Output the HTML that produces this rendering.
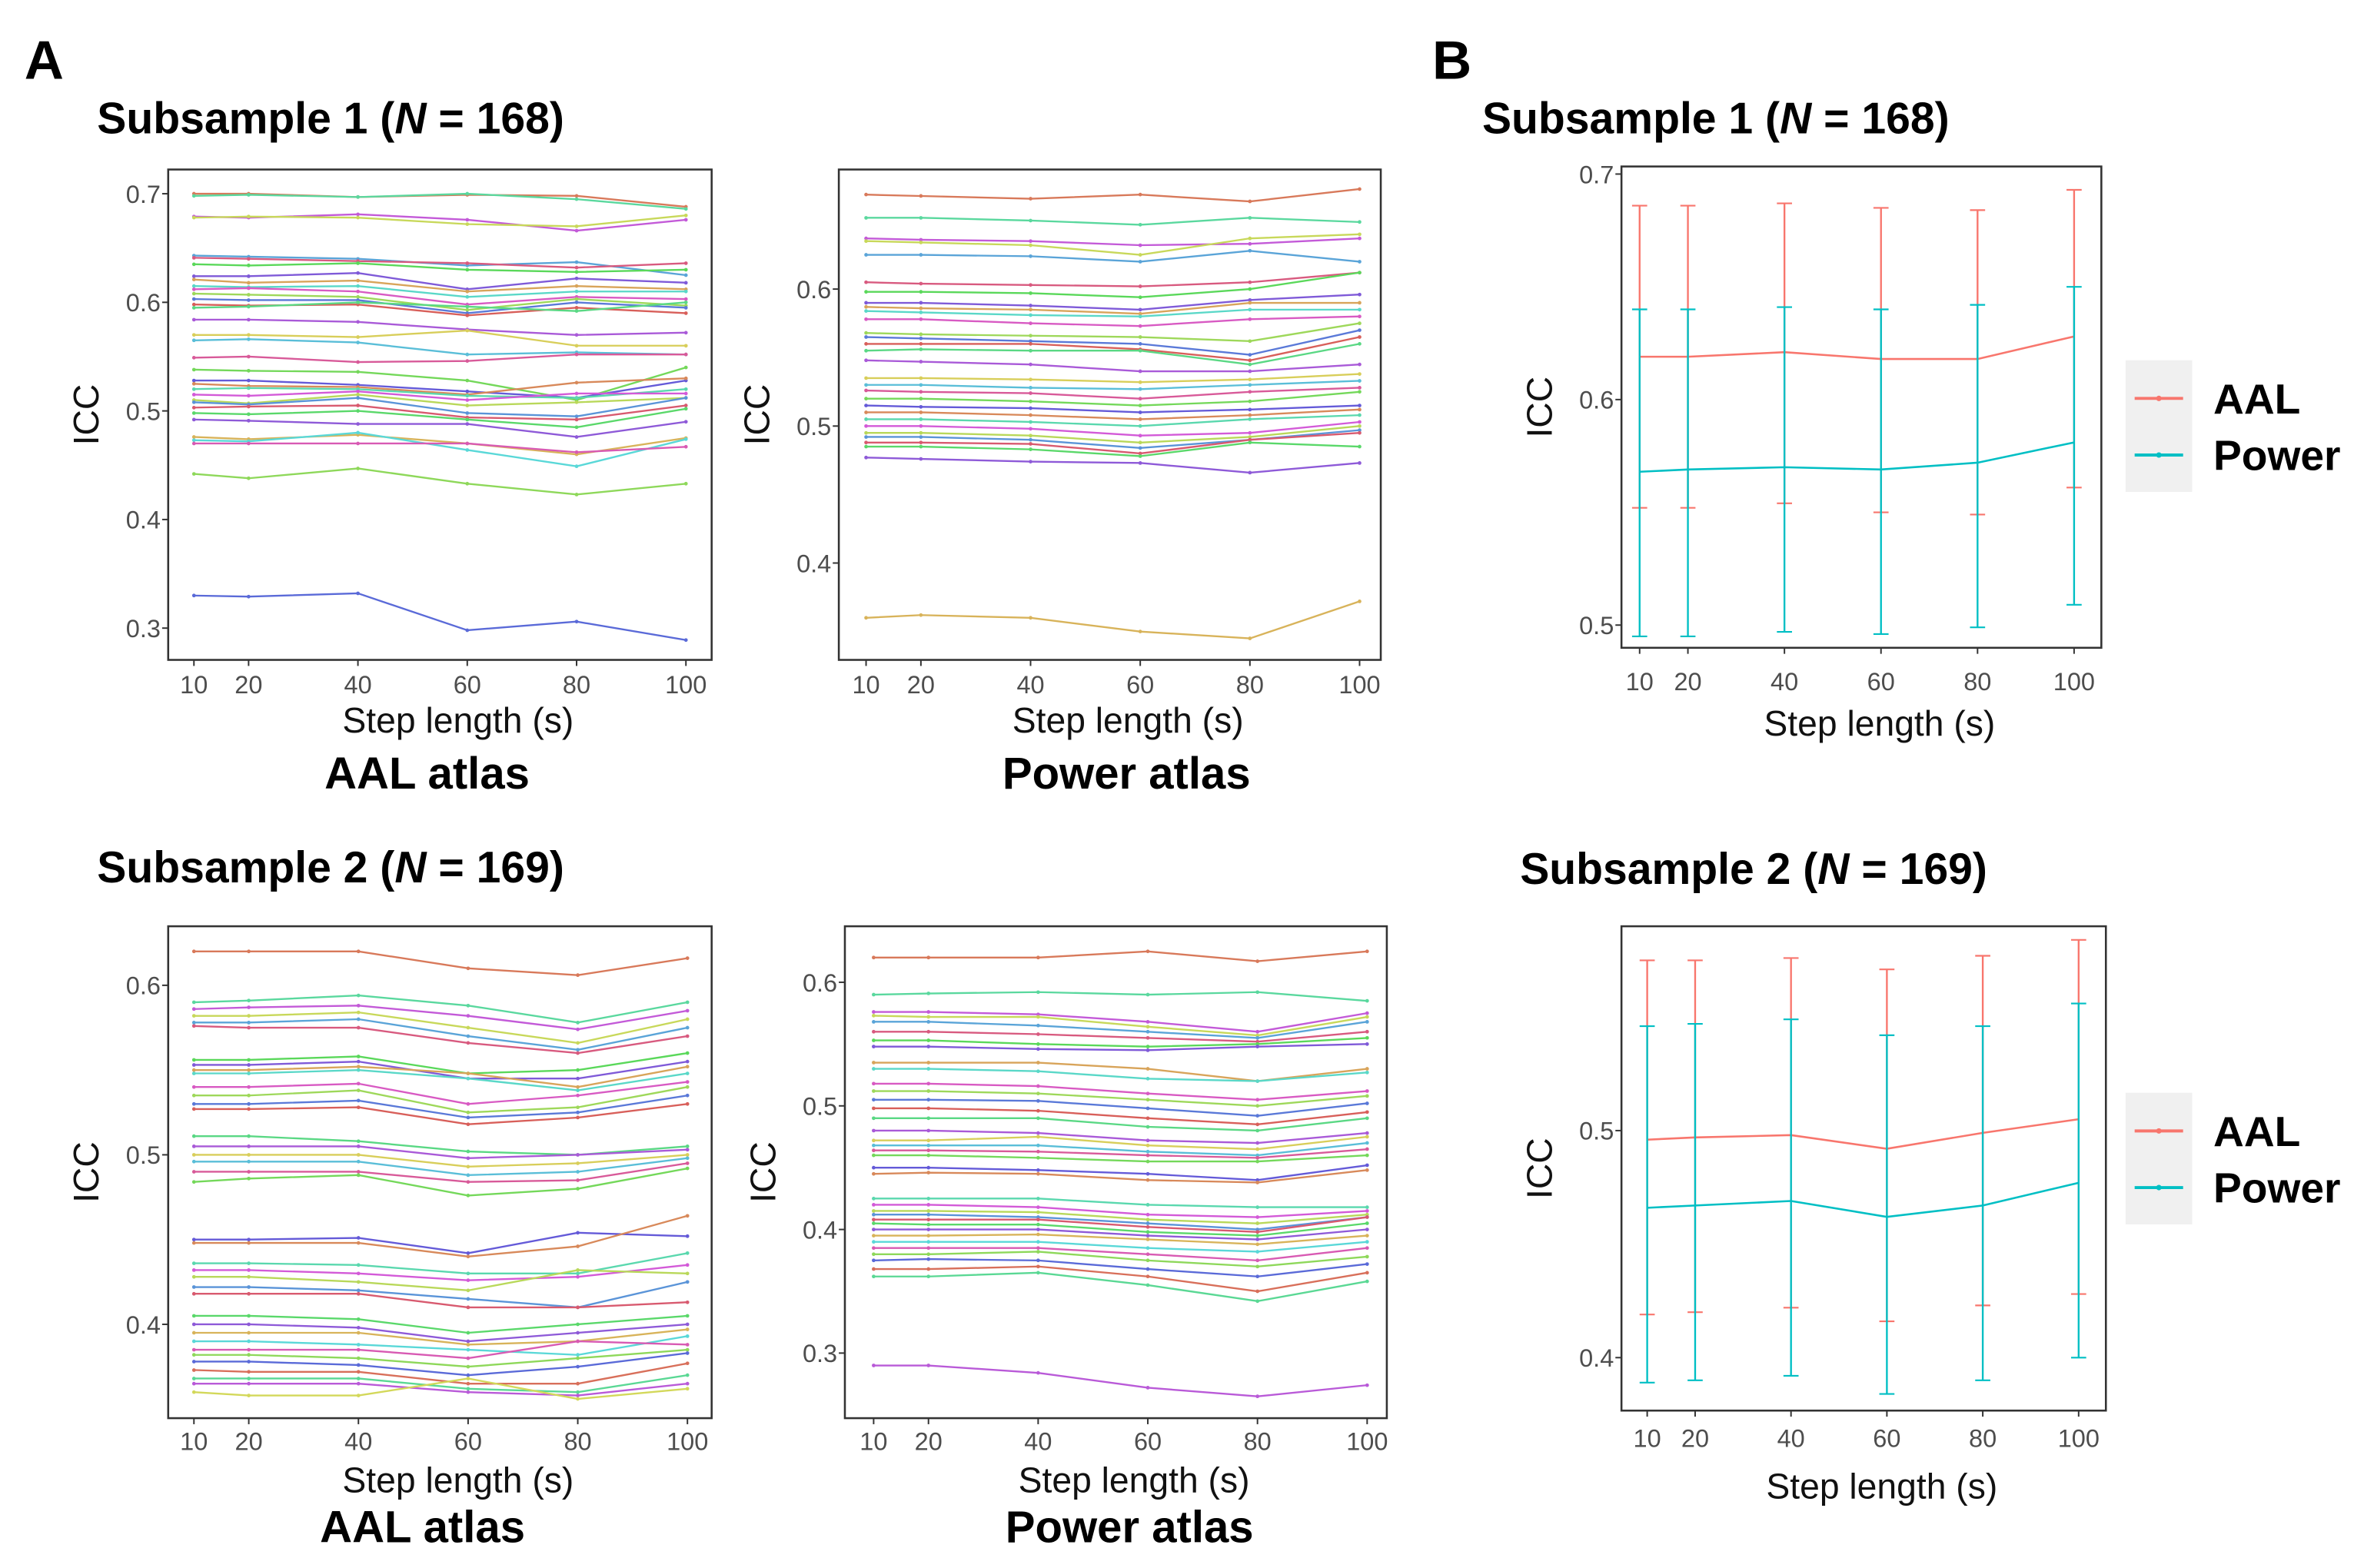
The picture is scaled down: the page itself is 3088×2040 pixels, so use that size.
<!DOCTYPE html>
<html><head><meta charset="utf-8">
<style>
html,body{margin:0;padding:0;background:#fff;}
svg{display:block;}
text{font-family:"Liberation Sans",Arial,sans-serif;}
</style></head>
<body>
<svg id="fig" width="3088" height="2040" viewBox="0 0 1568 1036" xmlns="http://www.w3.org/2000/svg"></svg>
<script>
const steps = [10, 20, 40, 60, 80, 100];
const stepTicks = ["10", "20", "40", "60", "80", "100"];

const aalS1 = [
[0.700,0.700,0.697,0.699,0.698,0.688],[0.698,0.699,0.697,0.700,0.695,0.686],
[0.679,0.678,0.681,0.676,0.666,0.676],[0.678,0.679,0.678,0.672,0.670,0.680],
[0.643,0.642,0.640,0.634,0.637,0.625],[0.641,0.640,0.638,0.636,0.632,0.636],
[0.635,0.634,0.636,0.630,0.628,0.630],[0.624,0.624,0.627,0.612,0.622,0.618],
[0.621,0.618,0.620,0.610,0.615,0.612],[0.615,0.614,0.615,0.605,0.610,0.610],
[0.612,0.613,0.610,0.598,0.605,0.603],[0.608,0.607,0.605,0.593,0.603,0.597],
[0.603,0.602,0.602,0.590,0.600,0.595],[0.598,0.597,0.598,0.588,0.595,0.590],
[0.595,0.596,0.600,0.596,0.592,0.600],[0.584,0.584,0.582,0.575,0.570,0.572],
[0.570,0.570,0.568,0.574,0.560,0.560],[0.565,0.566,0.563,0.552,0.554,0.552],
[0.549,0.550,0.545,0.546,0.552,0.552],[0.538,0.537,0.536,0.528,0.510,0.540],
[0.528,0.528,0.524,0.518,0.512,0.528],[0.525,0.523,0.522,0.515,0.526,0.530],
[0.520,0.521,0.520,0.514,0.512,0.520],[0.515,0.514,0.518,0.510,0.516,0.516],
[0.510,0.507,0.515,0.505,0.508,0.512],[0.508,0.506,0.512,0.498,0.495,0.512],
[0.503,0.504,0.505,0.494,0.492,0.505],[0.498,0.497,0.500,0.492,0.485,0.502],
[0.492,0.491,0.488,0.488,0.476,0.490],[0.476,0.474,0.478,0.470,0.460,0.475],
[0.473,0.472,0.480,0.464,0.449,0.474],[0.470,0.470,0.470,0.470,0.462,0.467],
[0.442,0.438,0.447,0.433,0.423,0.433],[0.330,0.329,0.332,0.298,0.306,0.289]];

const powerS1 = [
[0.669,0.668,0.666,0.669,0.664,0.673],[0.652,0.652,0.650,0.647,0.652,0.649],
[0.637,0.636,0.635,0.632,0.633,0.637],[0.635,0.634,0.632,0.625,0.637,0.640],
[0.625,0.625,0.624,0.620,0.628,0.620],[0.605,0.604,0.603,0.602,0.605,0.612],
[0.598,0.598,0.597,0.594,0.600,0.612],[0.590,0.590,0.588,0.585,0.592,0.596],
[0.587,0.586,0.585,0.582,0.590,0.590],[0.584,0.583,0.581,0.580,0.585,0.585],
[0.578,0.578,0.575,0.573,0.578,0.580],[0.568,0.567,0.566,0.565,0.562,0.575],
[0.565,0.564,0.562,0.560,0.552,0.570],[0.560,0.560,0.560,0.556,0.548,0.565],
[0.555,0.556,0.555,0.555,0.545,0.560],[0.548,0.547,0.545,0.540,0.540,0.545],
[0.535,0.535,0.534,0.532,0.534,0.538],[0.530,0.530,0.528,0.527,0.530,0.533],
[0.526,0.525,0.524,0.520,0.525,0.528],[0.520,0.520,0.518,0.515,0.518,0.525],
[0.515,0.514,0.513,0.510,0.512,0.515],[0.510,0.510,0.508,0.505,0.508,0.512],
[0.505,0.505,0.503,0.500,0.505,0.508],[0.500,0.500,0.498,0.493,0.495,0.503],
[0.495,0.495,0.493,0.488,0.492,0.500],[0.492,0.492,0.490,0.484,0.490,0.497],
[0.488,0.488,0.487,0.480,0.490,0.495],[0.485,0.485,0.483,0.478,0.488,0.485],
[0.477,0.476,0.474,0.473,0.466,0.473],[0.360,0.362,0.360,0.350,0.345,0.372]];

const aalS2 = [
[0.620,0.620,0.620,0.610,0.606,0.616],[0.590,0.591,0.594,0.588,0.578,0.590],
[0.586,0.587,0.588,0.582,0.574,0.585],[0.582,0.582,0.584,0.575,0.566,0.580],
[0.578,0.578,0.580,0.570,0.562,0.575],[0.576,0.575,0.575,0.566,0.560,0.570],
[0.556,0.556,0.558,0.548,0.550,0.560],[0.553,0.553,0.555,0.545,0.545,0.555],
[0.550,0.550,0.552,0.548,0.540,0.552],[0.548,0.548,0.550,0.545,0.538,0.548],
[0.540,0.540,0.542,0.530,0.535,0.543],[0.535,0.535,0.538,0.525,0.528,0.540],
[0.530,0.530,0.532,0.522,0.525,0.535],[0.527,0.527,0.528,0.518,0.522,0.530],
[0.511,0.511,0.508,0.502,0.500,0.505],[0.505,0.505,0.505,0.498,0.500,0.503],
[0.500,0.500,0.500,0.493,0.495,0.500],[0.496,0.496,0.496,0.488,0.490,0.498],
[0.490,0.490,0.490,0.484,0.485,0.495],[0.484,0.486,0.488,0.476,0.480,0.492],
[0.450,0.450,0.451,0.442,0.454,0.452],[0.448,0.448,0.448,0.440,0.446,0.464],
[0.436,0.436,0.435,0.430,0.430,0.442],[0.432,0.432,0.430,0.426,0.428,0.435],
[0.428,0.428,0.425,0.420,0.432,0.430],[0.422,0.422,0.420,0.415,0.410,0.425],
[0.418,0.418,0.418,0.410,0.410,0.413],[0.405,0.405,0.403,0.395,0.400,0.405],
[0.400,0.400,0.398,0.390,0.395,0.400],[0.395,0.395,0.395,0.388,0.390,0.397],
[0.390,0.390,0.388,0.385,0.382,0.393],[0.385,0.385,0.385,0.380,0.390,0.388],
[0.382,0.382,0.380,0.375,0.380,0.385],[0.378,0.378,0.376,0.370,0.375,0.383],
[0.373,0.372,0.372,0.365,0.365,0.377],[0.368,0.368,0.368,0.362,0.360,0.370],
[0.365,0.365,0.365,0.360,0.358,0.365],[0.360,0.358,0.358,0.368,0.356,0.362]];

const powerS2 = [
[0.620,0.620,0.620,0.625,0.617,0.625],[0.590,0.591,0.592,0.590,0.592,0.585],
[0.576,0.576,0.574,0.568,0.560,0.575],[0.573,0.572,0.572,0.564,0.557,0.572],
[0.568,0.568,0.565,0.560,0.555,0.568],[0.560,0.560,0.558,0.555,0.552,0.560],
[0.553,0.553,0.550,0.548,0.550,0.555],[0.548,0.548,0.546,0.545,0.548,0.550],
[0.535,0.535,0.535,0.530,0.520,0.530],[0.530,0.530,0.528,0.522,0.520,0.527],
[0.518,0.518,0.516,0.510,0.505,0.512],[0.512,0.512,0.510,0.505,0.500,0.508],
[0.505,0.505,0.504,0.498,0.492,0.502],[0.498,0.498,0.496,0.490,0.485,0.495],
[0.490,0.490,0.490,0.483,0.480,0.490],[0.480,0.480,0.478,0.472,0.470,0.478],
[0.472,0.472,0.475,0.468,0.465,0.475],[0.468,0.468,0.468,0.463,0.460,0.470],
[0.464,0.464,0.463,0.460,0.458,0.465],[0.460,0.460,0.458,0.455,0.455,0.460],
[0.450,0.450,0.448,0.445,0.440,0.452],[0.445,0.446,0.445,0.440,0.438,0.448],
[0.425,0.425,0.425,0.420,0.418,0.418],[0.420,0.420,0.418,0.412,0.410,0.415],
[0.415,0.415,0.414,0.408,0.405,0.412],[0.412,0.412,0.410,0.405,0.400,0.410],
[0.408,0.408,0.408,0.402,0.398,0.410],[0.405,0.404,0.404,0.398,0.395,0.405],
[0.400,0.400,0.400,0.395,0.392,0.400],[0.395,0.395,0.396,0.392,0.388,0.395],
[0.390,0.390,0.390,0.385,0.382,0.390],[0.385,0.385,0.385,0.380,0.375,0.385],
[0.380,0.380,0.382,0.375,0.370,0.378],[0.375,0.376,0.375,0.368,0.362,0.372],
[0.368,0.368,0.370,0.362,0.350,0.365],[0.362,0.362,0.365,0.355,0.342,0.358],
[0.290,0.290,0.284,0.272,0.265,0.274]];

const b1AalMean = [0.619,0.619,0.621,0.618,0.618,0.628];
const b1AalHi   = [0.686,0.686,0.687,0.685,0.684,0.693];
const b1AalLo   = [0.552,0.552,0.554,0.550,0.549,0.561];
const b1PowMean = [0.568,0.569,0.570,0.569,0.572,0.581];
const b1PowHi   = [0.640,0.640,0.641,0.640,0.642,0.650];
const b1PowLo   = [0.495,0.495,0.497,0.496,0.499,0.509];
const b2AalMean = [0.496,0.497,0.498,0.492,0.499,0.505];
const b2AalHi   = [0.575,0.575,0.576,0.571,0.577,0.584];
const b2AalLo   = [0.419,0.420,0.422,0.416,0.423,0.428];
const b2PowMean = [0.466,0.467,0.469,0.462,0.467,0.477];
const b2PowHi   = [0.546,0.547,0.549,0.542,0.546,0.556];
const b2PowLo   = [0.389,0.390,0.392,0.384,0.390,0.400];

const yTicksA1 = [0.3,0.4,0.5,0.6,0.7];
const yTicksA2 = [0.4,0.5,0.6];
const yTicksA3 = [0.4,0.5,0.6];
const yTicksA4 = [0.3,0.4,0.5,0.6];
const yTicksB1 = [0.5,0.6,0.7];
const yTicksB2 = [0.4,0.5];

const NS = "http://www.w3.org/2000/svg";
const svg = document.getElementById('fig');
function mk(tag, attrs, parent, txt) {
  const e = document.createElementNS(NS, tag);
  for (const k in attrs) e.setAttribute(k, attrs[k]);
  if (txt !== undefined) e.textContent = txt;
  (parent || svg).appendChild(e);
  return e;
}
function fmt(v){ return v.toFixed(1); }

function makePanel(name, box, x10, x100, ya, pa, yb, pb, yTicks, tickY, titleY) {
  const g = mk('g', {});
  
  
  const sx = v => x10 + (v - 10) * (x100 - x10) / 90;
  const sy = v => pa + (v - ya) * (pb - pa) / (yb - ya);
  const [L, T, R, B] = box;
  const frame = mk('rect', {x:L, y:T, width:R-L, height:B-T, fill:'#fff', stroke:'#333', 'stroke-width':1.3}, g);
  
  
  yTicks.forEach(t => {
    const y = sy(t);
    mk('line', {x1:L-4, x2:L, y1:y, y2:y, stroke:'#333', 'stroke-width':1}, g);
    const tl = mk('text', {x:L-5, y:y+6, 'text-anchor':'end', 'font-size':16.5, fill:'#4d4d4d'}, g, fmt(t));
    
    
  });
  steps.forEach((s, i) => {
    const x = sx(s);
    mk('line', {x1:x, x2:x, y1:B, y2:B+4, stroke:'#333', 'stroke-width':1}, g);
    const tl = mk('text', {x:x, y:tickY, 'text-anchor':'middle', 'font-size':16.5, fill:'#4d4d4d'}, g, stepTicks[i]);
    
    
  });
  const xt = mk('text', {x:(L+R)/2 + 12, y:titleY, 'text-anchor':'middle', 'font-size':23.5, fill:'#111'}, g, 'Step length (s)');
  
  
  const ycx = L - 46, ycy = (T+B)/2;
  const yt = mk('text', {x:ycx, y:ycy, 'text-anchor':'middle', 'font-size':23.5, fill:'#111', transform:`rotate(-90 ${ycx} ${ycy})`}, g, 'ICC');
  
  
  return {g, sx, sy};
}

function spaghetti(p, data) {
  data.forEach((row, i) => {
    const hue = (i * 137.5 + 15) % 360;
    const col = `hsl(${hue},62%,60%)`;
    const pts = row.map((v, j) => `${p.sx(steps[j]).toFixed(1)},${p.sy(v).toFixed(1)}`).join(' ');
    const pl = mk('polyline', {points:pts, fill:'none', stroke:col, 'stroke-width':1.2}, p.g);
    
    
    row.forEach((v, j) => {
      const c = mk('circle', {cx:p.sx(steps[j]), cy:p.sy(v), r:1.2, fill:col}, p.g);
      
      
    });
  });
}

function errSeries(p, mean, hi, lo, col, nm) {
  mean.forEach((m, j) => {
    const x = p.sx(steps[j]);
    const eb = mk('line', {x1:x, x2:x, y1:p.sy(hi[j]), y2:p.sy(lo[j]), stroke:col, 'stroke-width':1.2}, p.g);
    
    
    [hi[j], lo[j]].forEach(v => {
      mk('line', {x1:x-5, x2:x+5, y1:p.sy(v), y2:p.sy(v), stroke:col, 'stroke-width':1.1}, p.g);
    });
  });
  const pts = mean.map((v, j) => `${p.sx(steps[j]).toFixed(1)},${p.sy(v).toFixed(1)}`).join(' ');
  const pl = mk('polyline', {points:pts, fill:'none', stroke:col, 'stroke-width':1.3}, p.g);
  
  
}

function legend(x, y, h) {
  const g = mk('g', {});
  
  
  mk('rect', {x:x, y:y, width:44, height:h, fill:'#f0f0f0'}, g);
  const items = [['AAL','#f8766d', y + h*0.29], ['Power','#00bfc4', y + h*0.72]];
  items.forEach(([lab, col, yy]) => {
    const e = mk('g', {}, g);
    
    
    mk('line', {x1:x+6, x2:x+38, y1:yy, y2:yy, stroke:col, 'stroke-width':2}, e);
    mk('circle', {cx:x+22, cy:yy, r:1.8, fill:col}, e);
    mk('text', {x:x+58, y:yy+10, 'font-size':28, 'font-weight':'bold', fill:'#000'}, e, lab);
  });
}

function label(x, y, size, txt, nm, anchor) {
  const t = mk('text', {x:x, y:y, 'font-size':size, 'font-weight':'bold', fill:'#000', 'text-anchor':anchor||'start'});
  t.innerHTML = txt;
  
  
}

label(16, 52, 36, 'A', 'panel-label-a');
label(946, 52, 36, 'B', 'panel-label-b');
label(64, 88, 29, 'Subsample 1 (<tspan font-style="italic">N</tspan> = 168)', 'subsample-1-title-a');
label(64, 583, 29, 'Subsample 2 (<tspan font-style="italic">N</tspan> = 169)', 'subsample-2-title-a');
label(979, 88, 29, 'Subsample 1 (<tspan font-style="italic">N</tspan> = 168)', 'subsample-1-title-b');
label(1004, 584, 29, 'Subsample 2 (<tspan font-style="italic">N</tspan> = 169)', 'subsample-2-title-b');
label(282, 521, 29.5, 'AAL atlas', 'aal-atlas-label-1', 'middle');
label(744, 521, 29.5, 'Power atlas', 'power-atlas-label-1', 'middle');
label(279, 1019, 29.5, 'AAL atlas', 'aal-atlas-label-2', 'middle');
label(746, 1019, 29.5, 'Power atlas', 'power-atlas-label-2', 'middle');

const pA1 = makePanel('aal-subsample-1-chart', [111,112,470,436], 128, 453, 0.7, 128, 0.3, 415, yTicksA1, 458, 484);
spaghetti(pA1, aalS1);
const pA2 = makePanel('power-subsample-1-chart', [554,112,912,436], 572, 898, 0.6, 191, 0.4, 372, yTicksA2, 458, 484);
spaghetti(pA2, powerS1);
const pA3 = makePanel('aal-subsample-2-chart', [111,612,470,937], 128, 454, 0.6, 651, 0.4, 875, yTicksA3, 958, 986);
spaghetti(pA3, aalS2);
const pA4 = makePanel('power-subsample-2-chart', [558,612,916,937], 577, 903, 0.6, 649, 0.3, 894, yTicksA4, 958, 986);
spaghetti(pA4, powerS2);
const pB1 = makePanel('mean-subsample-1-chart', [1071,110,1388,428], 1083, 1370, 0.7, 115, 0.5, 413, yTicksB1, 456, 486);
errSeries(pB1, b1AalMean, b1AalHi, b1AalLo, '#f8766d', 'aal');
errSeries(pB1, b1PowMean, b1PowHi, b1PowLo, '#00bfc4', 'power');
legend(1404, 238, 87);
const pB2 = makePanel('mean-subsample-2-chart', [1071,612,1391,932], 1088, 1373, 0.5, 747, 0.4, 897, yTicksB2, 956, 990);
errSeries(pB2, b2AalMean, b2AalHi, b2AalLo, '#f8766d', 'aal');
errSeries(pB2, b2PowMean, b2PowHi, b2PowLo, '#00bfc4', 'power');
legend(1404, 722, 87);
</script>
</body></html>
